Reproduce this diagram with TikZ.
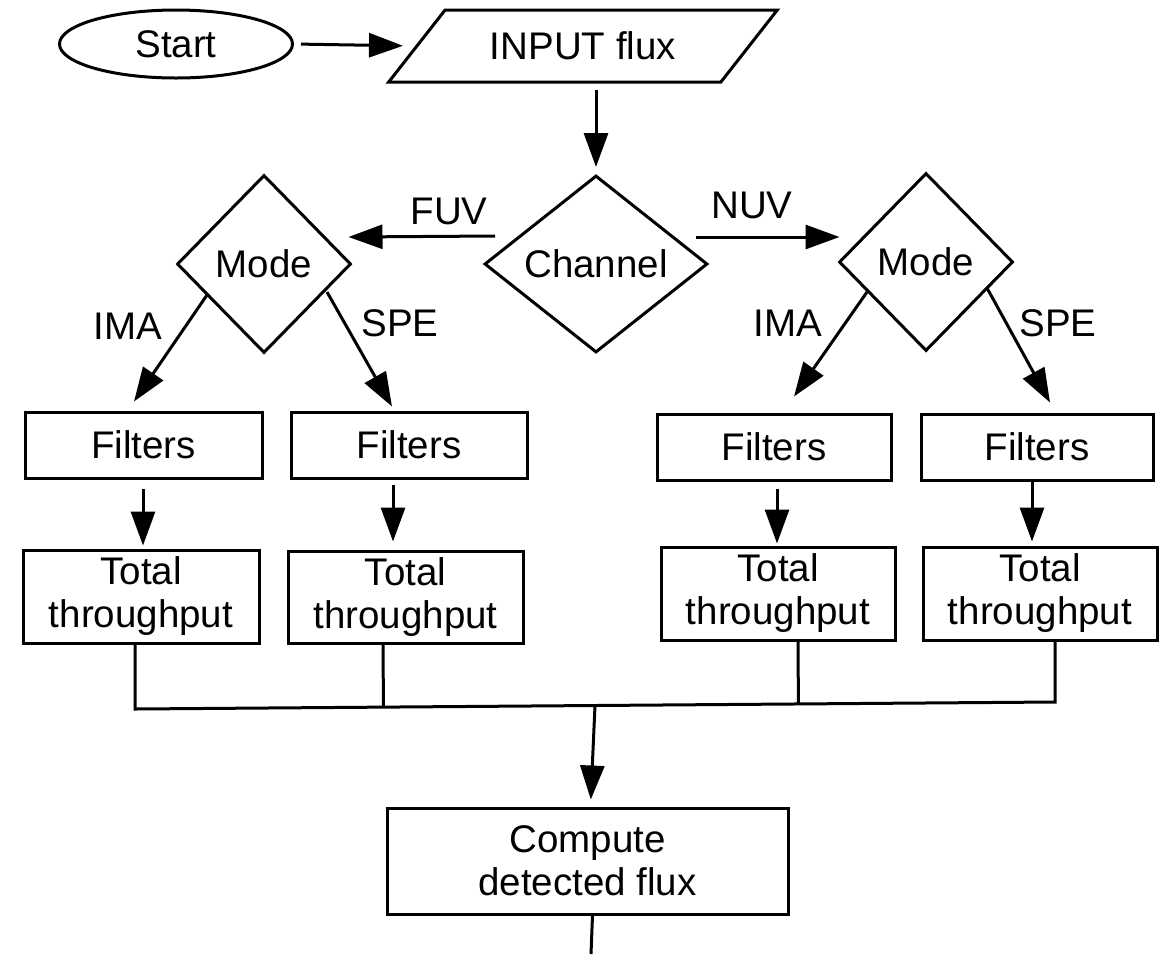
\documentclass[tikz,border=0pt]{standalone}
\usepackage{fontspec}
\setmainfont{Liberation Sans}
\usetikzlibrary{shapes.geometric,arrows.meta,calc}
\begin{document}
\begin{tikzpicture}[x=1pt,y=-1pt,
  every node/.style={font=\fontsize{38.5}{43}\selectfont, align=center},
  shapeline/.style={draw=black, line width=3pt},
  procbox/.style={shapeline, rectangle, inner sep=0pt},
  decision/.style={shapeline, diamond, inner sep=0pt},
  arr/.style={draw=black, line width=3pt, -{Triangle[length=34pt,width=24pt]}},
  plain/.style={draw=black, line width=3pt},
  lbl/.style={inner sep=0pt}
]
\useasboundingbox[fill=white] (0,0) rectangle (1166,954);

% start and input
\node[shapeline, ellipse, minimum width=233pt, minimum height=68pt, inner sep=0pt] (start) at (176,44) {Start};
\node[shapeline, trapezium, trapezium left angle=36.6, trapezium right angle=143.4,
      trapezium stretches=true, minimum width=390pt, minimum height=72pt, inner sep=0pt] (input) at (583,46) {INPUT flux};

% decisions
\node[decision, minimum width=223pt, minimum height=177pt] (channel) at (596,264) {Channel};
\node[decision, minimum width=174pt, minimum height=178pt] (modeF) at (264,264) {Mode};
\node[decision, minimum width=174pt, minimum height=178pt] (modeN) at (926,262) {Mode};

% filters
\node[procbox, minimum width=237pt, minimum height=66pt] (filt1) at (143.5,445) {Filters};
\node[procbox, minimum width=236pt, minimum height=66pt] (filt2) at (409,445) {Filters};
\node[procbox, minimum width=234pt, minimum height=66pt] (filt3) at (774,447) {Filters};
\node[procbox, minimum width=232pt, minimum height=66pt] (filt4) at (1037,447) {Filters};

% throughput
\node[procbox, minimum width=236pt, minimum height=93pt] (tot1) at (141,596.5) {Total\\throughput};
\node[procbox, minimum width=235pt, minimum height=92pt] (tot2) at (405.5,597) {Total\\throughput};
\node[procbox, minimum width=234pt, minimum height=93pt] (tot3) at (778,593.5) {Total\\throughput};
\node[procbox, minimum width=234pt, minimum height=93pt] (tot4) at (1040,593.5) {Total\\throughput};

% final step
\node[procbox, minimum width=401pt, minimum height=106pt] (compute) at (587.5,861) {Compute\\detected flux};

% connectors
\draw[arr, shorten <=7pt, shorten >=12pt] (start.east) -- (input.west);
\draw[arr, shorten <=6pt, shorten >=7pt] (channel.north |- input.south) -- (channel.north);

\draw[arr] ([shift={(12,-28)}]channel.west) -- ([shift={(-4,-27)}]modeF.east);
\draw[arr] ([shift={(-13,-27)}]channel.east) -- ([shift={(2,-25)}]modeN.west);
\node[lbl] (fuv) at (449,211) {FUV};
\node[lbl] (nuv) at (752,205) {NUV};

\draw[arr] ([shift={(-57,31)}]modeF.center) -- ([shift={(-9.5,-9)}]filt1.north);
\draw[arr] ([shift={(63,28)}]modeF.center) -- ([shift={(-17,-4)}]filt2.north);
\draw[arr] ([shift={(-59,30)}]modeN.center) -- ([shift={(20,-16)}]filt3.north);
\draw[arr] ([shift={(61,26)}]modeN.center) -- ([shift={(13,-10)}]filt4.north);
\node[lbl] (imaF) at (128,326) {IMA};
\node[lbl] (speF) at (400,323) {SPE};
\node[lbl] (imaN) at (788,323) {IMA};
\node[lbl] (speN) at (1058,323) {SPE};

\draw[arr, shorten <=9pt, shorten >=3pt] ([xshift=-0.5]filt1.south) -- ([xshift=2]tot1.north);
\draw[arr, shorten <=5pt, shorten >=8pt] ([xshift=-16]filt2.south) -- ([xshift=-12.5]tot2.north);
\draw[arr, shorten <=7pt, shorten >=2pt] ([xshift=3]filt3.south) -- ([xshift=-1]tot3.north);
\draw[arr, shorten >=4pt] ([xshift=-5]filt4.south) -- ([xshift=-8]tot4.north);

% collecting bus
\coordinate (busL) at (135,709);
\coordinate (busR) at (1055,702);
\coordinate (drop2) at ([xshift=-22.5]tot2.south);
\coordinate (drop3) at ([xshift=20]tot3.south);
\coordinate (busM) at ($(busL)!(595,700)!(busR)$);
\draw[plain] ([xshift=-6]tot1.south) -- (busL) -- (busR) -- ([xshift=15]tot4.south);
\draw[plain] (drop2) -- ($(busL)!(drop2)!(busR)$);
\draw[plain] (drop3) -- ($(busL)!(drop3)!(busR)$);
\draw[arr, shorten >=7pt] (busM) -- ([xshift=3]compute.north);

\coordinate (out) at (591,954);
\draw[plain] ([xshift=5]compute.south) -- (out);
\end{tikzpicture}
\end{document}
